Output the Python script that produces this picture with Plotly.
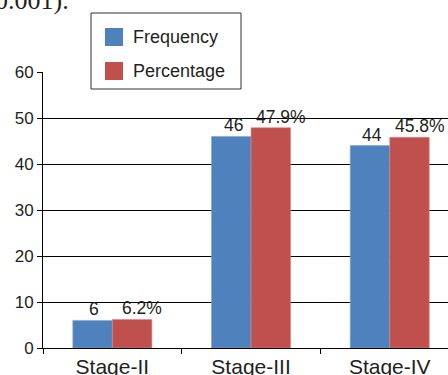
import plotly.graph_objects as go

stages = ["Stage-II", "Stage-III", "Stage-IV"]
frequency = [6, 46, 44]
percentage = [6.2, 47.9, 45.8]

BLUE = "#4F81BD"
RED = "#C0504D"
INK = "#231F20"
FONT = "Liberation Sans, Arial, sans-serif"

# plot-area geometry in pixels, used to place the key box
W, H = 448, 375
L, R, T, B = 43, 0, 72, 27
PW, PH = W - L - R, H - T - B


def px(x):
    return (x - L) / PW


def py(y):
    return (H - B - y) / PH


fig = go.Figure()
fig.add_trace(go.Bar(
    x=stages, y=frequency, name="Frequency",
    marker=dict(color=BLUE, line=dict(color="#7FA3D4", width=0.6)),
))
fig.add_trace(go.Bar(
    x=stages, y=percentage, name="Percentage",
    marker=dict(color=RED, line=dict(color="#D98986", width=0.6)),
))

# value labels above each bar (offset horizontally onto its bar within the group)
label_font = dict(size=17.5, color=INK, family=FONT)
for s, f, p in zip(stages, frequency, percentage):
    fig.add_annotation(x=s, y=f, text=str(f), xref="x", yref="y",
                       xanchor="center", yanchor="bottom", xshift=-18, yshift=-1,
                       showarrow=False, font=label_font)
    fig.add_annotation(x=s, y=p, text=f"{p}%", xref="x", yref="y",
                       xanchor="center", yanchor="bottom", xshift=30, yshift=-1,
                       showarrow=False, font=label_font)

fig.update_layout(
    width=W, height=H,
    margin=dict(l=L, r=R, t=T, b=B, autoexpand=False),
    paper_bgcolor="white", plot_bgcolor="white",
    barmode="group", bargap=0.43, bargroupgap=0,
    font=dict(family=FONT, color=INK),
    showlegend=False,
)

fig.update_xaxes(
    range=[-0.5, 2.42], showgrid=False, automargin=False,
    showline=True, linecolor="black", linewidth=1,
    ticks="outside", tickson="boundaries", ticklen=5, tickcolor="black",
    tickfont=dict(size=21, color=INK, family=FONT),
)
fig.update_yaxes(
    range=[0, 60], tickvals=[0, 10, 20, 30, 40, 50, 60], automargin=False,
    showgrid=True, gridcolor="black", gridwidth=1,
    showline=True, linecolor="black", linewidth=1,
    ticks="outside", ticklen=5, tickcolor="black",
    tickfont=dict(size=17, color=INK, family=FONT),
    zeroline=False,
)

# key box with two colour swatches
shapes = [dict(type="rect", xref="paper", yref="paper",
               x0=px(91), x1=px(241), y0=py(89), y1=py(13),
               fillcolor="white", line=dict(color="#333333", width=1), layer="above")]
for (name, color), cy in zip([("Frequency", BLUE), ("Percentage", RED)], [37, 71]):
    shapes.append(dict(type="rect", xref="paper", yref="paper",
                       x0=px(105), x1=px(123), y0=py(cy + 9), y1=py(cy - 9),
                       fillcolor=color, line=dict(width=0), layer="above"))
    fig.add_annotation(text=name, xref="paper", yref="paper",
                       x=px(131), y=py(cy), xanchor="left", yanchor="middle",
                       showarrow=False, font=dict(size=18, color=INK, family=FONT))
fig.update_layout(shapes=shapes)

# caption fragment running off the top-left corner
fig.add_annotation(
    text="0.001).", xref="paper", yref="paper",
    x=px(71), y=py(17), xanchor="right", yanchor="bottom",
    showarrow=False,
    font=dict(size=26, color=INK, family="Liberation Serif, Times New Roman, serif"),
)

fig.write_html("out.html")
